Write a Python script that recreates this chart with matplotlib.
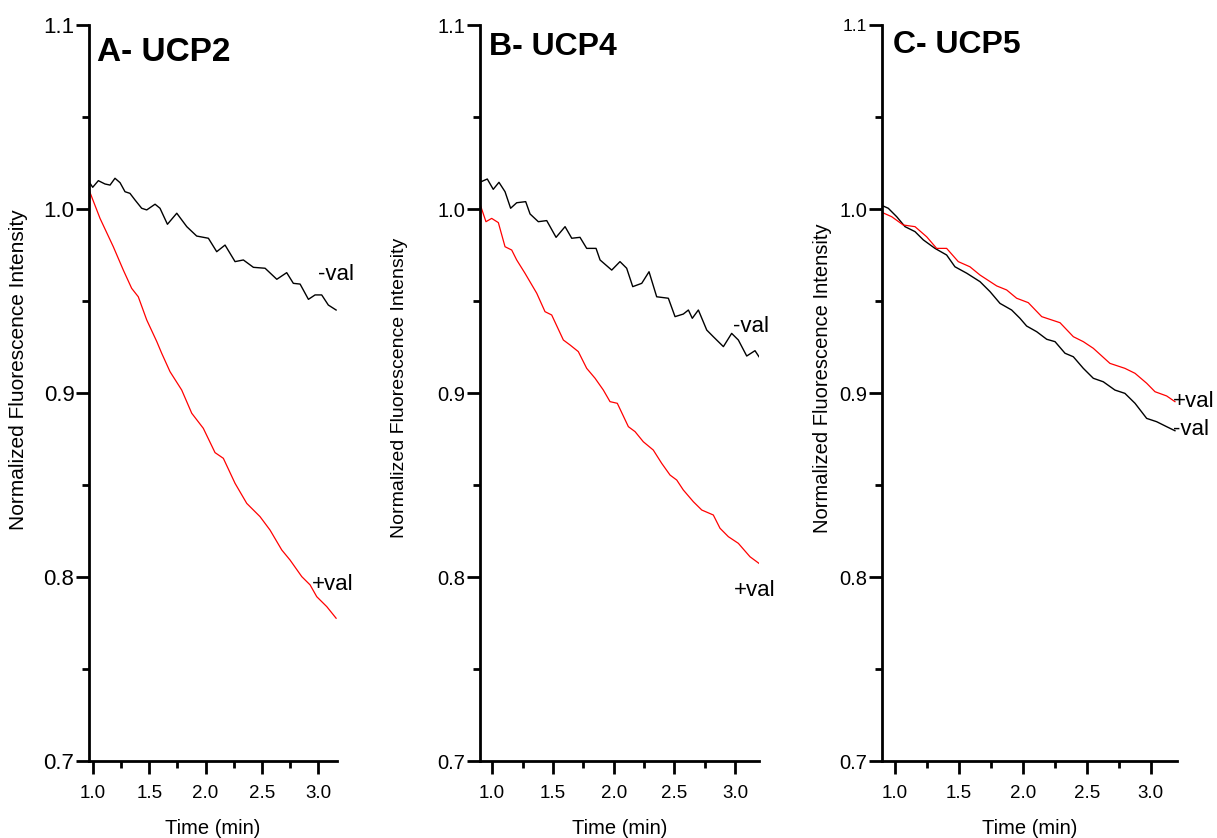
import matplotlib
matplotlib.use('Agg')
from matplotlib import pyplot as plt
from matplotlib.ticker import MultipleLocator

plt.rcParams['font.family'] = ['Liberation Sans', 'DejaVu Sans']

# panel A - UCP2
a_time_minus = [0.973, 0.997, 1.047, 1.106, 1.151, 1.195, 1.240, 1.284, 1.328, 1.373,
                1.432, 1.477, 1.551, 1.595, 1.661, 1.744, 1.833, 1.921, 2.025, 2.099,
                2.173, 2.262, 2.336, 2.425, 2.529, 2.633, 2.721, 2.780, 2.840, 2.914,
                2.973, 3.032, 3.091, 3.160]
a_val_minus = [1.0140, 1.0118, 1.0154, 1.0136, 1.0130, 1.0167, 1.0143, 1.0094, 1.0085, 1.0049,
               1.0004, 0.9995, 1.0026, 1.0004, 0.9917, 0.9977, 0.9904, 0.9853, 0.9841, 0.9768,
               0.9804, 0.9714, 0.9723, 0.9683, 0.9678, 0.9618, 0.9654, 0.9596, 0.9592, 0.9509,
               0.9533, 0.9533, 0.9478, 0.9451]
a_time_plus = [0.967, 1.062, 1.180, 1.269, 1.343, 1.402, 1.477, 1.566, 1.610, 1.684,
               1.788, 1.877, 1.980, 2.084, 2.158, 2.262, 2.366, 2.484, 2.573, 2.677,
               2.751, 2.855, 2.929, 2.988, 3.077, 3.160]
a_val_plus = [1.0099, 0.9949, 0.9795, 0.9668, 0.9569, 0.9523, 0.9397, 0.9280, 0.9216, 0.9116,
              0.9016, 0.8890, 0.8808, 0.8676, 0.8645, 0.8509, 0.8400, 0.8328, 0.8255, 0.8147,
              0.8092, 0.8002, 0.7957, 0.7893, 0.7839, 0.7776]

# panel B - UCP4
b_time_minus = [0.908, 0.960, 1.009, 1.056, 1.106, 1.152, 1.202, 1.276, 1.312, 1.380,
                1.449, 1.526, 1.600, 1.655, 1.723, 1.778, 1.855, 1.888, 1.984, 2.052,
                2.107, 2.157, 2.231, 2.291, 2.354, 2.450, 2.505, 2.573, 2.615, 2.647,
                2.697, 2.766, 2.820, 2.903, 2.971, 3.026, 3.095, 3.163, 3.196]
b_val_minus = [1.0148, 1.0163, 1.0107, 1.0145, 1.0094, 1.0004, 1.0034, 1.0040, 0.9973, 0.9931,
               0.9937, 0.9846, 0.9904, 0.9841, 0.9846, 0.9786, 0.9786, 0.9723, 0.9668, 0.9714,
               0.9678, 0.9578, 0.9596, 0.9659, 0.9523, 0.9515, 0.9415, 0.9429, 0.9451, 0.9406,
               0.9451, 0.9342, 0.9306, 0.9252, 0.9324, 0.9288, 0.9201, 0.9230, 0.9197]
b_time_plus = [0.900, 0.949, 0.996, 1.051, 1.106, 1.161, 1.202, 1.270, 1.367, 1.435,
               1.490, 1.586, 1.641, 1.709, 1.778, 1.847, 1.915, 1.970, 2.030, 2.121,
               2.176, 2.244, 2.326, 2.395, 2.464, 2.519, 2.573, 2.656, 2.725, 2.820,
               2.875, 2.944, 3.026, 3.122, 3.196]
b_val_plus = [1.0027, 0.9931, 0.9949, 0.9926, 0.9795, 0.9777, 0.9723, 0.9651, 0.9542, 0.9442,
              0.9424, 0.9288, 0.9261, 0.9225, 0.9134, 0.9080, 0.9016, 0.8953, 0.8944, 0.8817,
              0.8790, 0.8735, 0.8690, 0.8618, 0.8554, 0.8527, 0.8473, 0.8409, 0.8364, 0.8337,
              0.8265, 0.8219, 0.8183, 0.8110, 0.8074]

# panel C - UCP5
c_time_minus = [0.910, 0.949, 1.015, 1.080, 1.158, 1.223, 1.314, 1.405, 1.470, 1.562,
                1.666, 1.744, 1.822, 1.913, 1.978, 2.030, 2.109, 2.187, 2.252, 2.330,
                2.395, 2.473, 2.551, 2.629, 2.720, 2.798, 2.877, 2.968, 3.046, 3.124,
                3.189]
c_val_minus = [1.0016, 1.0004, 0.9958, 0.9904, 0.9877, 0.9832, 0.9786, 0.9750, 0.9686, 0.9651,
               0.9605, 0.9551, 0.9487, 0.9451, 0.9406, 0.9364, 0.9333, 0.9292, 0.9279, 0.9216,
               0.9197, 0.9134, 0.9080, 0.9061, 0.9016, 0.8998, 0.8944, 0.8862, 0.8844, 0.8817,
               0.8795]
c_time_plus = [0.905, 0.976, 1.066, 1.158, 1.249, 1.327, 1.405, 1.496, 1.587, 1.666,
               1.796, 1.874, 1.952, 2.043, 2.148, 2.291, 2.395, 2.473, 2.551, 2.681,
               2.798, 2.877, 2.968, 3.033, 3.124, 3.189]
c_val_plus = [0.9980, 0.9958, 0.9913, 0.9904, 0.9849, 0.9786, 0.9786, 0.9714, 0.9686, 0.9641,
              0.9582, 0.9560, 0.9515, 0.9491, 0.9415, 0.9382, 0.9306, 0.9279, 0.9243, 0.9161,
              0.9134, 0.9107, 0.9053, 0.9007, 0.8984, 0.8953]

y_ticks = [0.7, 0.8, 0.9, 1.0, 1.1]
y_tick_labels = ['0.7', '0.8', '0.9', '1.0', '1.1']
x_ticks = [1.0, 1.5, 2.0, 2.5, 3.0]
x_tick_labels = ['1.0', '1.5', '2.0', '2.5', '3.0']

W, H = 1217, 838


def style_axes(ax, xlim, ytick_size):
    ax.set_xlim(*xlim)
    ax.set_ylim(0.7, 1.1)
    for side in ['top', 'right']:
        ax.spines[side].set_visible(False)
    for side in ['left', 'bottom']:
        ax.spines[side].set_linewidth(2)
    ax.set_xticks(x_ticks)
    ax.set_xticklabels(x_tick_labels)
    ax.set_yticks(y_ticks)
    ax.set_yticklabels(y_tick_labels)
    ax.xaxis.set_minor_locator(MultipleLocator(0.25))
    ax.yaxis.set_minor_locator(MultipleLocator(0.05))
    ax.tick_params(which='major', direction='out', length=9.5, width=2)
    ax.tick_params(which='minor', direction='out', length=5, width=2)
    ax.tick_params(axis='x', which='major', pad=8, labelsize=13.5)
    ax.tick_params(axis='y', which='major', pad=1, labelsize=ytick_size)


def panel(rect, xlim, t_minus, v_minus, t_plus, v_plus, title, title_pos, title_size,
          minus_pos, plus_pos, ylabel_pos, ylabel_size, ytick_size, fig):
    ax = fig.add_axes(rect)
    ax.plot(t_minus, v_minus, color='black', lw=1.0)
    ax.plot(t_plus, v_plus, color='#ff0000', lw=0.9)
    style_axes(ax, xlim, ytick_size)
    ax.text(minus_pos[0], minus_pos[1], '-val', fontsize=16, ha='left', va='baseline')
    ax.text(plus_pos[0], plus_pos[1], '+val', fontsize=16, ha='left', va='baseline')
    fig.text(title_pos[0] / W, 1 - title_pos[1] / H, title, fontsize=title_size,
             fontweight='bold', ha='left', va='baseline')
    fig.text(ylabel_pos[0] / W, 1 - ylabel_pos[1] / H, 'Normalized Fluorescence Intensity',
             fontsize=ylabel_size, rotation=90, ha='center', va='center')
    cx = rect[0] + rect[2] / 2
    fig.text(cx, 1 - 828 / H, 'Time (min)', fontsize=14.5, ha='center', va='center')
    return ax


fig = plt.figure(figsize=(W / 100, H / 100), dpi=100)

bottom = (H - 761) / H
height = 736 / H

panel([89 / W, bottom, 248 / W, height], (0.964, 3.168),
      a_time_minus, a_val_minus, a_time_plus, a_val_plus,
      'A- UCP2', (97, 61), 24, (3.000, 0.9614), (2.946, 0.7929), (19, 370), 15, 16, fig)

panel([480 / W, bottom, 279 / W, height], (0.90, 3.196),
      b_time_minus, b_val_minus, b_time_plus, b_val_plus,
      'B- UCP4', (489, 55), 23, (2.982, 0.9332), (2.990, 0.7897), (400, 388), 14, 14.5, fig)

ax_c = panel([882 / W, bottom, 295 / W, height], (0.90, 3.205),
             c_time_minus, c_val_minus, c_time_plus, c_val_plus,
             'C- UCP5', (893, 53), 23, (3.173, 0.8772), (3.173, 0.8924), (822, 378), 14.5, 14.5, fig)
ax_c.get_yticklabels()[-1].set_fontsize(12.5)

plt.savefig('out.png', dpi=100)
plt.close()
